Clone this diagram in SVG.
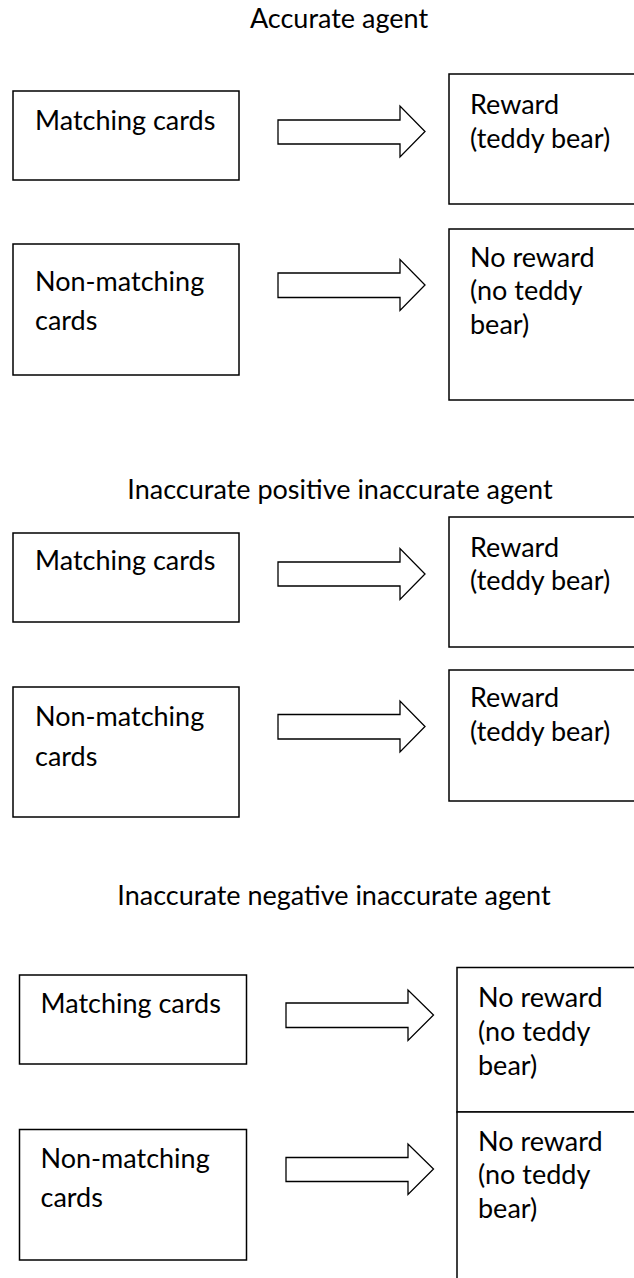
<svg xmlns="http://www.w3.org/2000/svg" width="634" height="1278" viewBox="0 0 634 1278">
<style>
text{font-family:Lato,"Open Sans","Liberation Sans",sans-serif;font-size:27px;fill:#000}
.t{text-anchor:middle}
.box{fill:#fff;stroke:#000;stroke-width:1.5}
.arr{fill:#fff;stroke:#000;stroke-width:1.3;stroke-linejoin:miter}
</style>
<rect width="634" height="1278" fill="#fff"/>
<g id="titles">
<text class="t" x="339" y="28">Accurate agent</text>
<text class="t" x="340" y="499">Inaccurate positive inaccurate agent</text>
<text class="t" x="334" y="905">Inaccurate negative inaccurate agent</text>
</g>
<g id="connectors">
<path class="arr" d="M278,120 H400 V106 L425,131.5 L400,157 V144 H278 Z"/>
<path class="arr" d="M278,273 H400 V259.5 L425,285 L400,310.5 V297.5 H278 Z"/>
<path class="arr" d="M278,562 H400 V548.5 L425,574 L400,599.5 V586 H278 Z"/>
<path class="arr" d="M278,714.5 H400 V701 L425,726.5 L400,752 V739 H278 Z"/>
<path class="arr" d="M286,1003 H408 V990 L433.5,1015 L408,1040.5 V1027.5 H286 Z"/>
<path class="arr" d="M286,1157.5 H408 V1144 L433.5,1169 L408,1194.5 V1181.5 H286 Z"/>
</g>
<g id="n1"><rect class="box" x="13" y="91" width="226" height="89"/><text x="35" y="130">Matching cards</text></g>
<g id="n2"><rect class="box" x="449" y="74" width="200" height="130"/><text x="470" y="114">Reward</text><text x="470" y="148">(teddy bear)</text></g>
<g id="n3"><rect class="box" x="13" y="244" width="226" height="131"/><text x="35" y="291">Non-matching</text><text x="35" y="330">cards</text></g>
<g id="n4"><rect class="box" x="449" y="229" width="200" height="171"/><text x="470" y="266.5">No reward</text><text x="470" y="300">(no teddy</text><text x="470" y="333.5">bear)</text></g>
<g id="n5"><rect class="box" x="13" y="533" width="226" height="89"/><text x="35" y="570">Matching cards</text></g>
<g id="n6"><rect class="box" x="449" y="517" width="200" height="130"/><text x="470" y="556.5">Reward</text><text x="470" y="590">(teddy bear)</text></g>
<g id="n7"><rect class="box" x="13" y="687" width="226" height="130"/><text x="35" y="726">Non-matching</text><text x="35" y="766">cards</text></g>
<g id="n8"><rect class="box" x="449" y="670" width="200" height="131"/><text x="470" y="707">Reward</text><text x="470" y="741">(teddy bear)</text></g>
<g id="n9"><rect class="box" x="19.5" y="975" width="227" height="89"/><text x="40.5" y="1013">Matching cards</text></g>
<g id="n10"><rect class="box" x="457" y="967.5" width="200" height="144.5"/><text x="478" y="1007">No reward</text><text x="478" y="1040.5">(no teddy</text><text x="478" y="1075">bear)</text></g>
<g id="n11"><rect class="box" x="19.5" y="1129.5" width="227" height="130.5"/><text x="40.5" y="1168">Non-matching</text><text x="40.5" y="1207">cards</text></g>
<g id="n12"><rect class="box" x="457" y="1112" width="200" height="200"/><text x="478" y="1150.5">No reward</text><text x="478" y="1184">(no teddy</text><text x="478" y="1217.5">bear)</text></g>
</svg>
